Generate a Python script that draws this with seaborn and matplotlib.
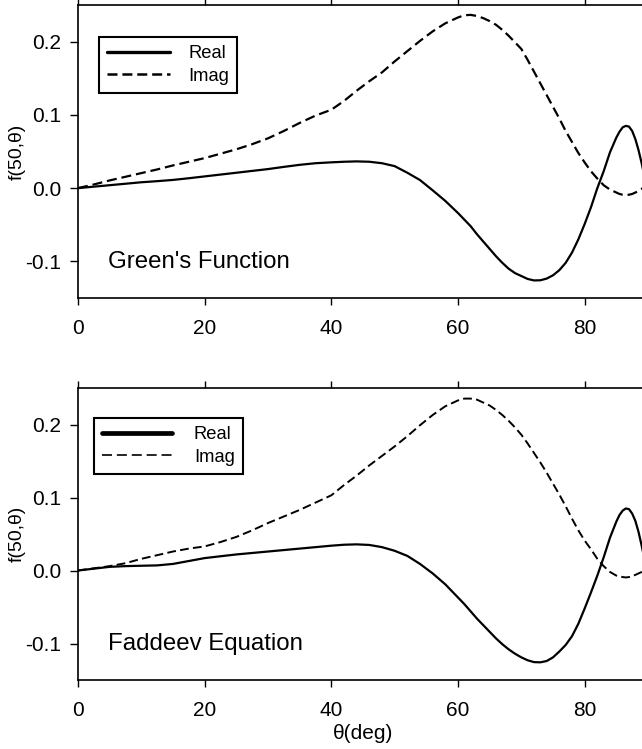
import numpy as np
import pandas as pd
import matplotlib
matplotlib.use('Agg')
import matplotlib.pyplot as plt
from matplotlib.lines import Line2D
import seaborn as sns

# scattering angle (deg)
theta = [0, 2.5, 5, 7.5, 10, 12.5, 15, 17.5, 20, 22.5, 25, 27.5, 30, 32.5, 35, 37.5, 40,
         42, 44, 46, 48, 50, 52, 54, 56, 58, 60, 61, 62, 63, 64, 65, 66, 67, 68, 69, 70,
         71, 72, 73, 74, 75, 76, 77, 78, 79, 80, 81, 82, 83, 84, 85, 85.5, 86, 86.5, 87,
         87.5, 88, 88.5, 89, 89.5, 90]

# Green's function amplitude
green_real = [0, 0.002, 0.004, 0.006, 0.008, 0.0095, 0.0112, 0.0135, 0.016, 0.0185, 0.021,
              0.0235, 0.026, 0.029, 0.0318, 0.034, 0.0352,
              0.036, 0.0365, 0.036, 0.034, 0.030, 0.021, 0.011, -0.003, -0.0175, -0.034,
              -0.043, -0.052, -0.063, -0.073, -0.083, -0.093, -0.102, -0.110, -0.116, -0.120,
              -0.124, -0.126, -0.1258, -0.1235, -0.119, -0.112, -0.102, -0.088, -0.070,
              -0.049, -0.026, 0.000, 0.023, 0.049, 0.069, 0.077, 0.083, 0.085, 0.084,
              0.078, 0.067, 0.052, 0.034, 0.013, -0.002]
green_imag = [0, 0.005, 0.0105, 0.0155, 0.0205, 0.0255, 0.031, 0.036, 0.041, 0.047, 0.053,
              0.060, 0.068, 0.078, 0.089, 0.099, 0.107,
              0.119, 0.133, 0.146, 0.158, 0.173, 0.187, 0.201, 0.214, 0.225, 0.233,
              0.236, 0.2365, 0.235, 0.232, 0.228, 0.223, 0.216, 0.208, 0.199, 0.190,
              0.175, 0.159, 0.143, 0.127, 0.111, 0.095, 0.078, 0.063, 0.048,
              0.035, 0.023, 0.013, 0.004, -0.002, -0.006, -0.008, -0.009, -0.0095, -0.009,
              -0.008, -0.006, -0.004, -0.001, 0.002, 0.004]

# Faddeev equation amplitude
fad_real = [0, 0.0025, 0.005, 0.006, 0.0065, 0.007, 0.009, 0.013, 0.017, 0.0195, 0.022,
            0.024, 0.026, 0.028, 0.030, 0.032, 0.034,
            0.0353, 0.0358, 0.035, 0.032, 0.027, 0.020, 0.009, -0.004, -0.019, -0.037,
            -0.046, -0.056, -0.066, -0.075, -0.084, -0.093, -0.101, -0.108, -0.114, -0.119,
            -0.123, -0.1255, -0.1258, -0.124, -0.119, -0.111, -0.102, -0.090, -0.073,
            -0.052, -0.030, -0.007, 0.018, 0.045, 0.067, 0.076, 0.082, 0.085, 0.084,
            0.078, 0.068, 0.053, 0.034, 0.013, -0.002]
fad_imag = [0, 0.003, 0.006, 0.010, 0.016, 0.021, 0.026, 0.030, 0.033, 0.039, 0.046,
            0.055, 0.065, 0.074, 0.083, 0.093, 0.103,
            0.117, 0.130, 0.144, 0.157, 0.170, 0.184, 0.199, 0.213, 0.225, 0.233,
            0.2355, 0.2355, 0.234, 0.230, 0.226, 0.220, 0.213, 0.205, 0.196, 0.186,
            0.174, 0.161, 0.148, 0.134, 0.119, 0.104, 0.088, 0.071, 0.055,
            0.041, 0.029, 0.016, 0.006, -0.002, -0.007, -0.008, -0.009, -0.0095, -0.009,
            -0.008, -0.006, -0.004, -0.002, 0.000, 0.002]

panels = ["Green's Function", "Faddeev Equation"]
yticks = [-0.1, 0.0, 0.1, 0.2]
ytick_labels = ['-0.1', '0.0', '0.1', '0.2']
xticks = [0, 20, 40, 60, 80]

rows = []
for name, re, im in [(panels[0], green_real, green_imag), (panels[1], fad_real, fad_imag)]:
    for t, r, i in zip(theta, re, im):
        rows.append((name, 'Real', t, r))
        rows.append((name, 'Imag', t, i))
df = pd.DataFrame(rows, columns=['panel', 'part', 'theta', 'f'])

sns.set_style('ticks')
plt.rcParams['font.family'] = ['Liberation Sans', 'DejaVu Sans']
plt.rcParams['axes.linewidth'] = 1.2
plt.rcParams['text.color'] = 'black'
plt.rcParams['axes.labelcolor'] = 'black'
plt.rcParams['xtick.color'] = 'black'
plt.rcParams['ytick.color'] = 'black'
plt.rcParams['axes.edgecolor'] = 'black'

fig = plt.figure(figsize=(6.42, 7.49), dpi=100)
ax1 = fig.add_axes([78/642, 1-298/749, 570/642, 293/749])
ax2 = fig.add_axes([78/642, 1-680/749, 570/642, 292/749])

dash = (4.5, 2.2)
leg_cfg = [
    dict(anchor=(0.037, 0.891), real_lw=2.4, imag_lw=1.8, hl=3.4, htp=1.0),
    dict(anchor=(0.028, 0.897), real_lw=3.4, imag_lw=1.2, hl=3.8, htp=1.2),
]
imag_lw = [1.6, 1.4]

for k, (ax, name) in enumerate(zip([ax1, ax2], panels)):
    d = df[df.panel == name]
    sns.lineplot(data=d[d.part == 'Real'], x='theta', y='f', color='black', lw=1.6,
                 ax=ax, errorbar=None)
    sns.lineplot(data=d[d.part == 'Imag'], x='theta', y='f', color='black', lw=imag_lw[k],
                 ax=ax, errorbar=None, linestyle=(0, dash))
    ax.set_xlim(0, 90)
    ax.set_ylim(-0.15, 0.25)
    ax.set_xticks(xticks)
    ax.set_yticks(yticks)
    ax.set_yticklabels(ytick_labels)
    ax.tick_params(axis='x', which='both', top=True, bottom=True, direction='out',
                   length=5, width=1, labelsize=15, pad=10)
    ax.tick_params(axis='y', left=True, right=False, direction='out',
                   length=6, width=1, labelsize=15, pad=6)
    ax.spines['right'].set_visible(False)
    ax.set_ylabel('f(50,θ)', fontsize=14, labelpad=0)
    ax.set_xlabel('')
    ax.text(0.053, 0.102, name, transform=ax.transAxes, fontsize=17.3, va='baseline')

    c = leg_cfg[k]
    handles = [Line2D([], [], color='black', lw=c['real_lw']),
               Line2D([], [], color='black', lw=c['imag_lw'],
                      linestyle=(0, (4.5 * 1.6 / c['imag_lw'], 2.2 * 1.6 / c['imag_lw'])))]
    leg = ax.legend(handles, ['Real', 'Imag'], loc='upper left', bbox_to_anchor=c['anchor'],
                    borderaxespad=0, fontsize=13.2, handlelength=c['hl'],
                    handletextpad=c['htp'], fancybox=False, framealpha=1,
                    edgecolor='black', borderpad=0.45, labelspacing=0.3)
    leg.get_frame().set_linewidth(1.5)

ax2.set_xlabel('θ(deg)', fontsize=15, labelpad=3)

fig.savefig('out.png', dpi=100)
